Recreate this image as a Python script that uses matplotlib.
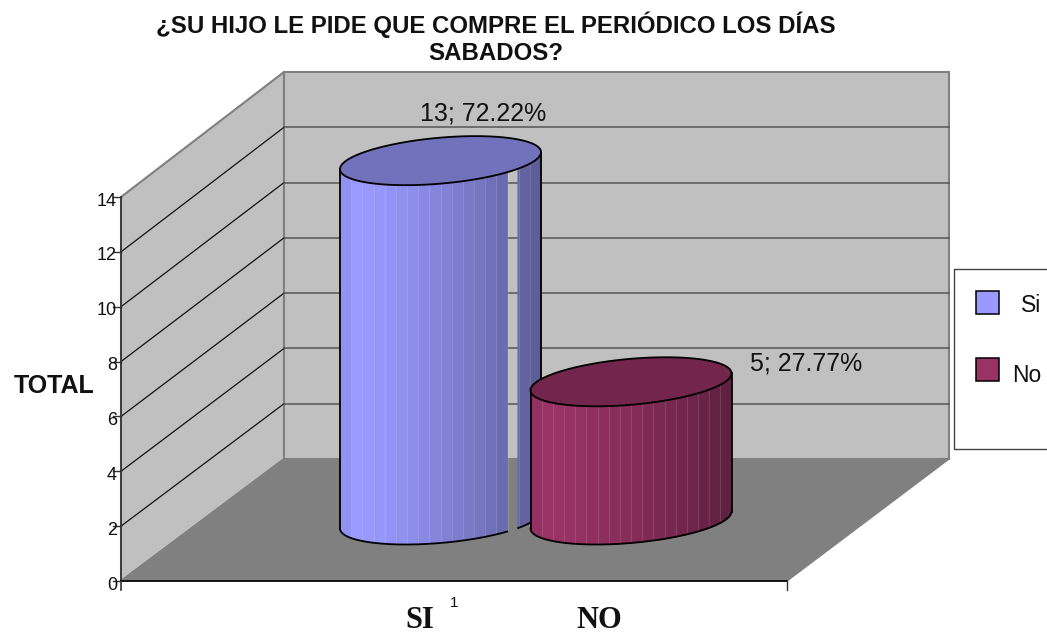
import numpy as np
import matplotlib
matplotlib.use("Agg")
import matplotlib.pyplot as plt

categories = ["Si", "No"]
values = [13, 5]
percents = ["72.22%", "27.77%"]
y_ticks = [0, 2, 4, 6, 8, 10, 12, 14]
axis_labels = ["SI", "NO"]
title = "¿SU HIJO LE PIDE QUE COMPRE EL PERIÓDICO LOS DÍAS\nSABADOS?"

light_cols = ["#9999ff", "#993366"]
dark_cols = ["#56568c", "#591e3b"]
cap_cols = ["#7272bc", "#72264c"]

plt.rcParams["font.family"] = ["Liberation Sans", "DejaVu Sans"]

fig = plt.figure(figsize=(10.47, 6.34), dpi=100)
ax = fig.add_axes([0, 0, 1, 1])
ax.set_xlim(0, 1047)
ax.set_ylim(634, 0)
ax.axis("off")

# scale of the fake 3d box, in pixels
unit_back = (459 - 72) / 14
unit_front = (581 - 197) / 14


def back_y(v):
    return 459 - v * unit_back


def front_y(v):
    return 581 - v * unit_front


# walls and floor
ax.fill([121, 284, 284, 121], [front_y(14), back_y(14), back_y(0), 581],
        color="#c0c0c0", ec="#808080", lw=1.5, zorder=1)
ax.fill([284, 949, 949, 284], [back_y(14), back_y(14), back_y(0), back_y(0)],
        color="#c0c0c0", ec="#808080", lw=1.5, zorder=1)
ax.fill([121, 284, 949, 787], [581, 459, 459, 581], color="#808080", zorder=2)

for v in y_ticks[1:-1]:
    ax.plot([121, 284], [front_y(v), back_y(v)], color="#111111", lw=0.9, zorder=3)
    ax.plot([284, 949], [back_y(v), back_y(v)], color="#555555", lw=1.1, zorder=3)

# axes
ax.plot([121, 121], [front_y(14), 590], color="#333333", lw=1.2, zorder=4)
ax.plot([121, 787], [581, 581], color="black", lw=1.2, zorder=4)
ax.plot([787, 787], [581, 590], color="#333333", lw=1, zorder=4)
for v in y_ticks:
    ax.plot([113, 121], [front_y(v), front_y(v)], color="#333333", lw=1, zorder=4)
    ax.text(117, front_y(v) + 4, str(v), ha="right", va="center", fontsize=13,
            color="#111111", zorder=5)


def mix(c1, c2, f):
    a = np.array(matplotlib.colors.to_rgb(c1))
    b = np.array(matplotlib.colors.to_rgb(c2))
    return tuple(a + (b - a) * f)


# cylinders
half_w = 100.5
skew = 8.5
squash = 23
step = 190.5
first_x = 440.5
gap = (508, 517)

for i, v in enumerate(values):
    z = 6 + i * 3
    cx = first_x + i * step
    base = 520
    top = base - v * unit_back
    t = np.linspace(0, 2 * np.pi, 241)
    cap_x = cx + half_w * np.cos(t)

    n_bands = 18
    edges = np.linspace(cx - half_w, cx + half_w, n_bands + 1)
    for k in range(n_bands):
        x = np.linspace(edges[k], min(edges[k + 1] + 1, cx + half_w), 12)
        c = (x - cx) / half_w
        y_bot = base - skew * c + squash * np.sqrt(np.clip(1 - c ** 2, 0, 1))
        y_top = top - skew * c
        f = k / (n_bands - 1)
        col = mix(light_cols[i], dark_cols[i], max(f - 0.08, 0) ** 1.3)
        if k == 0:
            col = mix(light_cols[i], dark_cols[i], 0.1)
        if i == 0:
            # the white slit in the first cylinder
            keep = (x < gap[0]) | (x > gap[1])
            y_bot = np.where(keep, y_bot, np.nan)
        ax.fill_between(x, y_top, y_bot, color=col, lw=0, zorder=z)
    for k in range(1, n_bands):
        xe = edges[k]
        if not (i == 0 and gap[0] < xe < gap[1]):
            ce = (xe - cx) / half_w
            ye = base - skew * ce + squash * np.sqrt(1 - ce ** 2)
            ax.plot([xe, xe], [top - skew * ce, ye], color="white", alpha=0.12,
                    lw=0.8, zorder=z)

    # outline
    ax.plot([cx - half_w] * 2, [top + skew, base + skew], color="black", lw=1.3, zorder=z + 1)
    ax.plot([cx + half_w] * 2, [top - skew, base - skew], color="black", lw=1.3, zorder=z + 1)
    low = np.linspace(0, np.pi, 161)
    low_x = cx + half_w * np.cos(low)
    low_y = base - skew * np.cos(low) + squash * np.sin(low)
    if i == 0:
        low_y = np.where((low_x > gap[0]) & (low_x < gap[1]), np.nan, low_y)
    ax.plot(low_x, low_y, color="black", lw=1.3, zorder=z + 1)
    cap_y = top - skew * np.cos(t) + squash * np.sin(t)
    ax.fill(cap_x, cap_y, fc=cap_cols[i], ec="black", lw=1.3, zorder=z + 1)

ax.text(483, 114, "%d; %s" % (values[0], percents[0]), ha="center", va="center",
        fontsize=18, color="#111111", zorder=20)
ax.text(806, 364, "%d; %s" % (values[1], percents[1]), ha="center", va="center",
        fontsize=18, color="#111111", zorder=20)

# titles
ax.text(496, 38, title, ha="center", va="center", fontsize=17.3, fontweight="bold",
        linespacing=1.23, color="#111111")
ax.text(54, 386, "TOTAL", ha="center", va="center", fontsize=18, fontweight="bold",
        color="#111111")
ax.text(454, 603, "1", ha="center", va="center", fontsize=11, color="#111111")
for lab, xp in zip(axis_labels, [419.5, 599]):
    ax.text(xp, 620, lab, ha="center", va="center", fontsize=22, fontweight="bold",
            family="Liberation Serif", color="#111111")

# legend, runs off the right edge like the original
ax.plot([1047, 953.5, 953.5, 1047], [269, 269, 449, 449], color="#444444", lw=1, zorder=4)
ax.fill([953.5, 1047, 1047, 953.5], [269, 269, 449, 449], color="white", zorder=3.5)
for i, (name, yp) in enumerate(zip(categories, [303, 370])):
    ax.add_patch(plt.Rectangle((976, yp - 12), 23, 23, fc=light_cols[i], ec="black",
                               lw=1.1, zorder=5))
ax.text(1041, 305, categories[0], ha="right", va="center", fontsize=16.5, color="#111111", zorder=5)
ax.text(1041, 375, categories[1], ha="right", va="center", fontsize=16.5, color="#111111", zorder=5)

fig.savefig("out.png", dpi=100)
